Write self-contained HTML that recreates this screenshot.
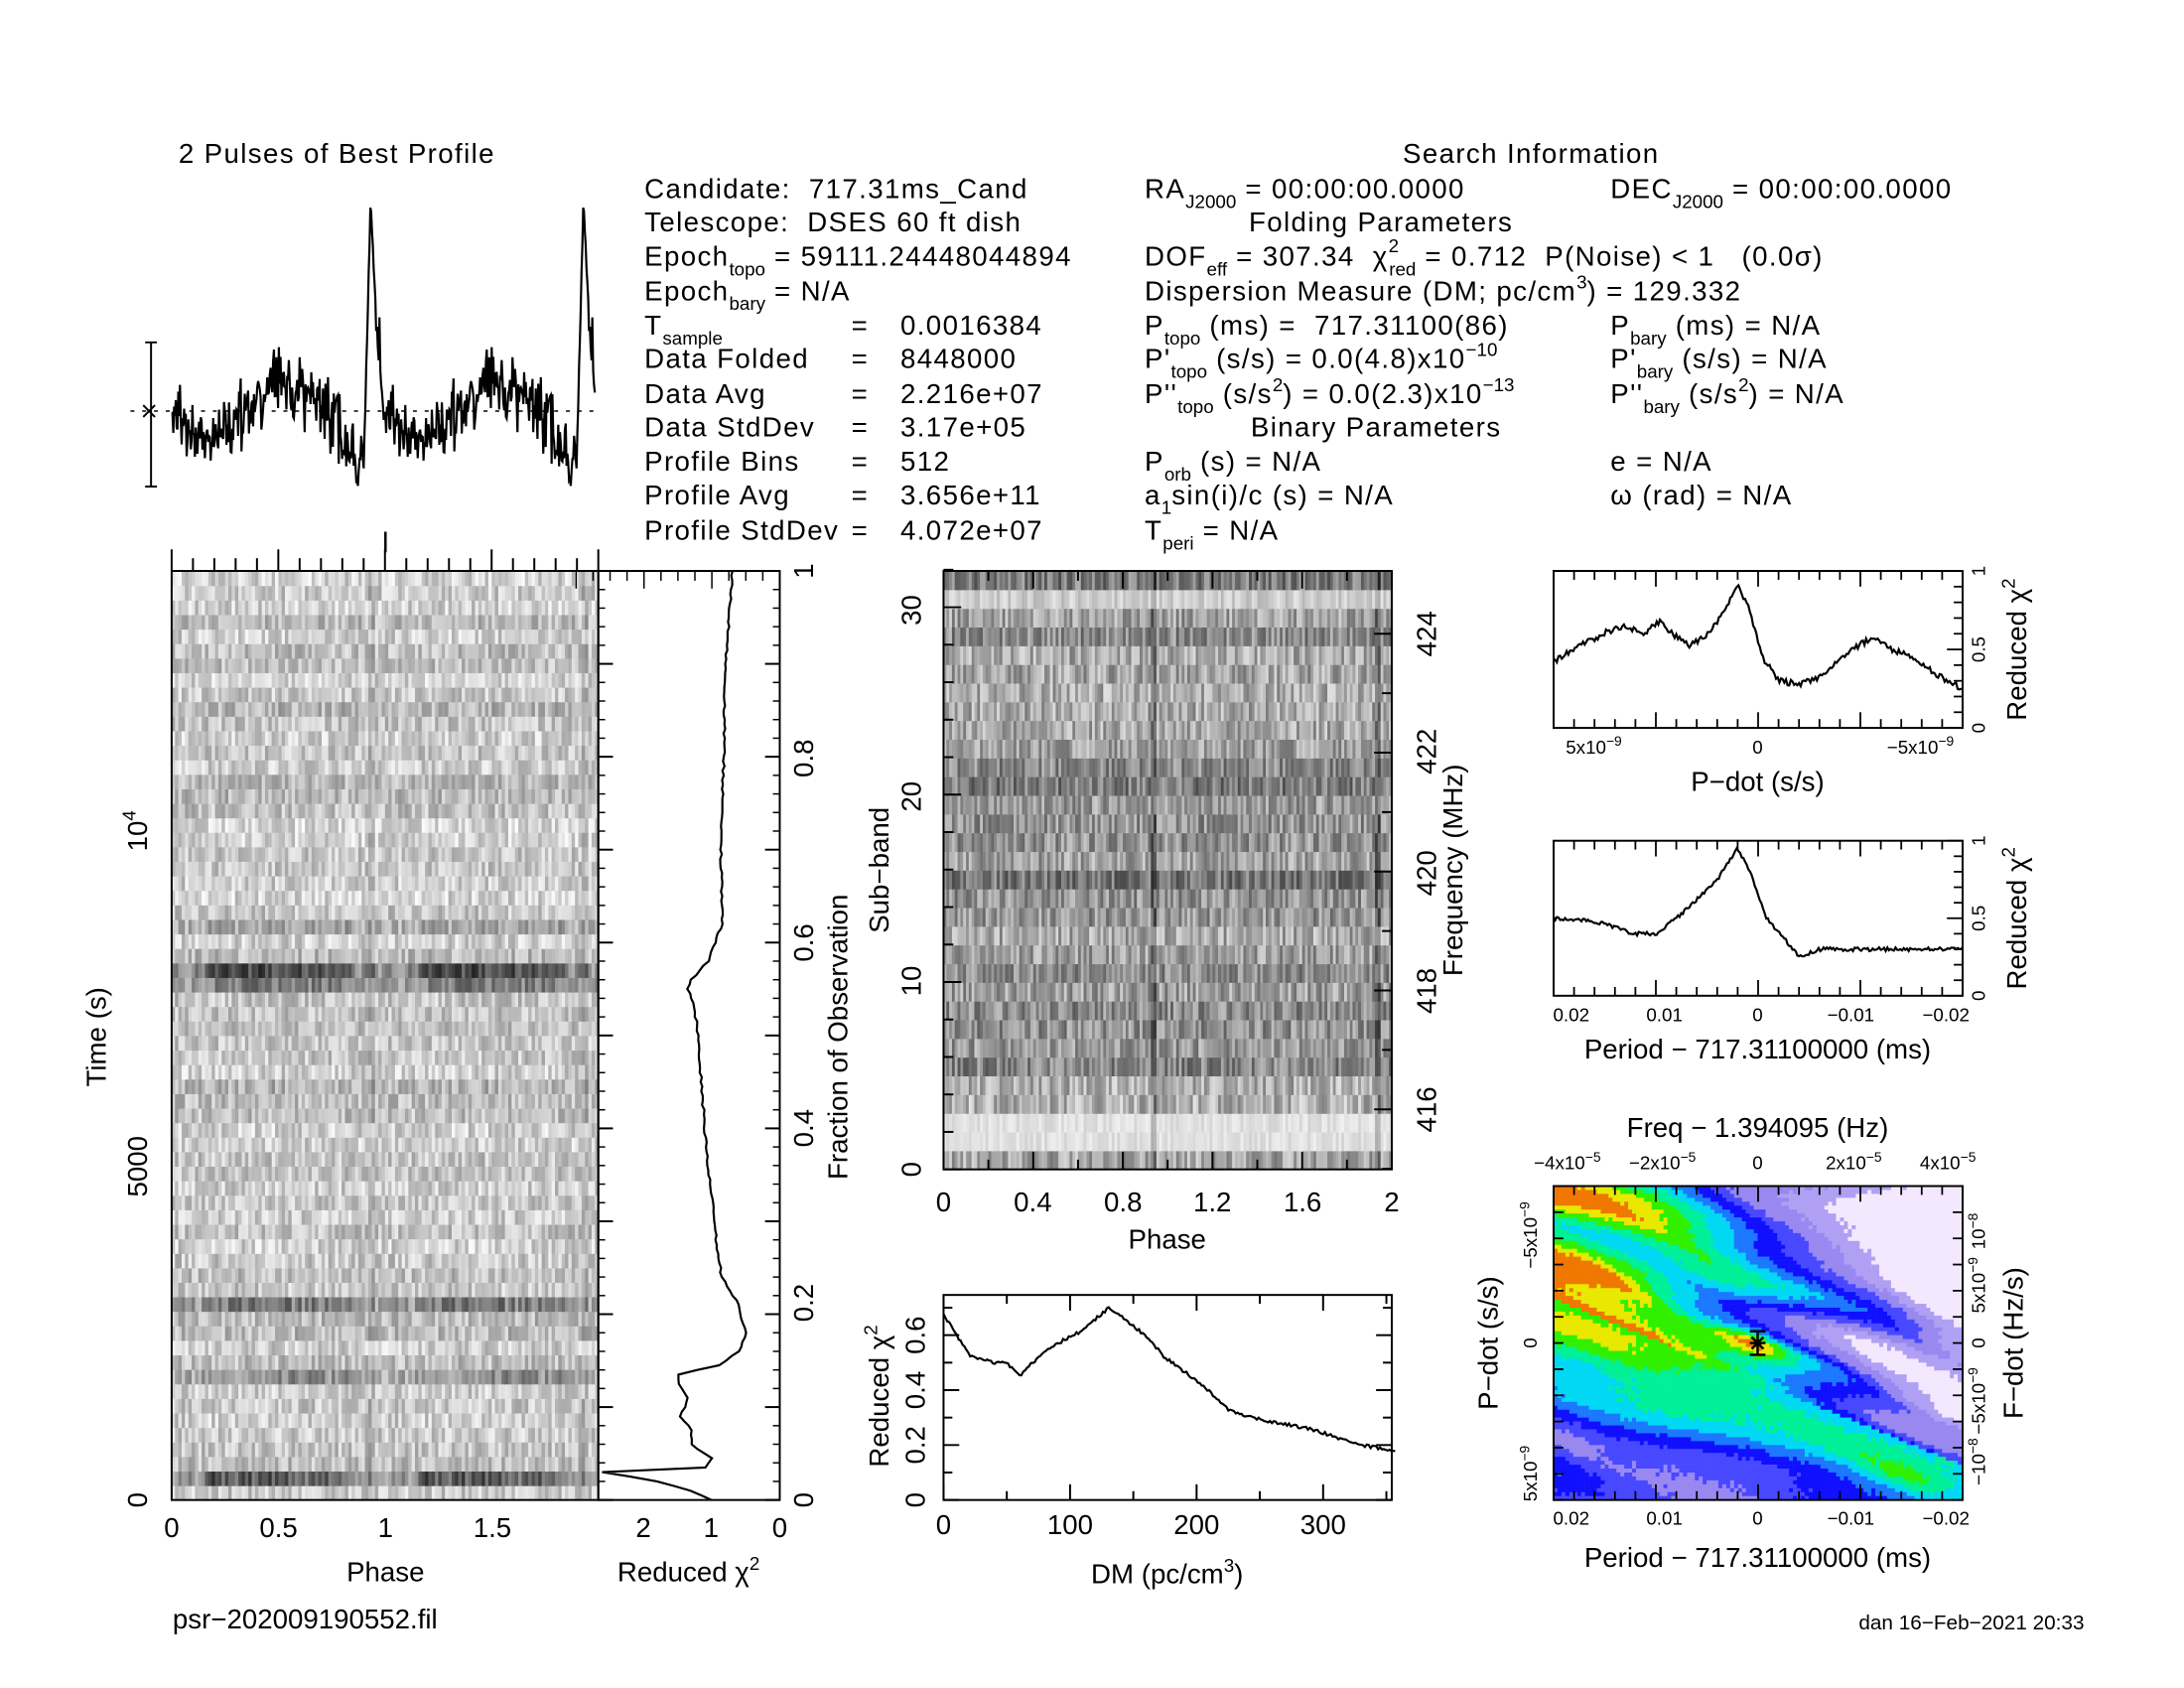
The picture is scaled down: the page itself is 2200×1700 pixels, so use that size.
<!DOCTYPE html>
<html><head><meta charset="utf-8"><style>
html,body{margin:0;padding:0;background:#fff;}
svg{display:block;}
text{font-family:"Liberation Sans",sans-serif;font-size:28px;fill:#000;white-space:pre;}
.t text{letter-spacing:1.4px;}
.s{font-size:19px;letter-spacing:0;}
</style></head><body>
<svg id="c" width="2200" height="1700" viewBox="0 0 2200 1700" xmlns="http://www.w3.org/2000/svg">
<defs>
<clipPath id="cm"><rect x="1584" y="1209" width="417" height="320"/></clipPath>
</defs>
<g transform="scale(0.988)">
<g id="gen"></g>
<g class="t">
<text x="182" y="166">2 Pulses of Best Profile</text>
<text x="1561" y="166" text-anchor="middle">Search Information</text>
<text x="657" y="202">Candidate:  717.31ms_Cand</text>
<text x="657" y="236">Telescope:  DSES 60 ft dish</text>
<text x="657" y="271">Epoch<tspan class="s" dy="10">topo</tspan><tspan dy="-10"> = 59111.24448044894</tspan></text>
<text x="657" y="306">Epoch<tspan class="s" dy="10">bary</tspan><tspan dy="-10"> = N/A</tspan></text>
<text x="657" y="341">T<tspan class="s" dy="10">sample</tspan></text>
<text x="657" y="375">Data Folded</text>
<text x="657" y="411">Data Avg</text>
<text x="657" y="445">Data StdDev</text>
<text x="657" y="480">Profile Bins</text>
<text x="657" y="514">Profile Avg</text>
<text x="657" y="550">Profile StdDev</text>
<text x="868" y="341">=</text><text x="868" y="375">=</text><text x="868" y="411">=</text><text x="868" y="445">=</text><text x="868" y="480">=</text><text x="868" y="514">=</text><text x="868" y="550">=</text>
<text x="918" y="341">0.0016384</text><text x="918" y="375">8448000</text><text x="918" y="411">2.216e+07</text><text x="918" y="445">3.17e+05</text><text x="918" y="480">512</text><text x="918" y="514">3.656e+11</text><text x="918" y="550">4.072e+07</text>
<text x="1167" y="202">RA<tspan class="s" dy="10">J2000</tspan><tspan dy="-10"> = 00:00:00.0000</tspan></text>
<text x="1642" y="202">DEC<tspan class="s" dy="10">J2000</tspan><tspan dy="-10"> = 00:00:00.0000</tspan></text>
<text x="1408" y="236" text-anchor="middle">Folding Parameters</text>
<text x="1167" y="271">DOF<tspan class="s" dy="10">eff</tspan><tspan dy="-10"> = 307.34  χ</tspan><tspan class="s" dy="-14">2</tspan><tspan class="s" dy="24" dx="-10">red</tspan><tspan dy="-10"> = 0.712  P(Noise) &lt; 1   (0.0σ)</tspan></text>
<text x="1167" y="306">Dispersion Measure (DM; pc/cm<tspan class="s" dy="-12">3</tspan><tspan dy="12">) = 129.332</tspan></text>
<text x="1167" y="341">P<tspan class="s" dy="10">topo</tspan><tspan dy="-10"> (ms) =  717.31100(86)</tspan></text>
<text x="1167" y="375">P'<tspan class="s" dy="10">topo</tspan><tspan dy="-10"> (s/s) = 0.0(4.8)x10</tspan><tspan class="s" dy="-12">−10</tspan></text>
<text x="1167" y="411">P''<tspan class="s" dy="10">topo</tspan><tspan dy="-10"> (s/s</tspan><tspan class="s" dy="-12">2</tspan><tspan dy="12">) = 0.0(2.3)x10</tspan><tspan class="s" dy="-12">−13</tspan></text>
<text x="1403" y="445" text-anchor="middle">Binary Parameters</text>
<text x="1167" y="480">P<tspan class="s" dy="10">orb</tspan><tspan dy="-10"> (s) = N/A</tspan></text>
<text x="1167" y="514">a<tspan class="s" dy="10">1</tspan><tspan dy="-10">sin(i)/c (s) = N/A</tspan></text>
<text x="1167" y="550">T<tspan class="s" dy="10">peri</tspan><tspan dy="-10"> = N/A</tspan></text>
<text x="1642" y="341">P<tspan class="s" dy="10">bary</tspan><tspan dy="-10"> (ms) = N/A</tspan></text>
<text x="1642" y="375">P'<tspan class="s" dy="10">bary</tspan><tspan dy="-10"> (s/s) = N/A</tspan></text>
<text x="1642" y="411">P''<tspan class="s" dy="10">bary</tspan><tspan dy="-10"> (s/s</tspan><tspan class="s" dy="-12">2</tspan><tspan dy="12">) = N/A</tspan></text>
<text x="1642" y="480">e = N/A</text>
<text x="1642" y="514">ω (rad) = N/A</text>
</g>
<g>
<text x="175" y="1567" text-anchor="middle">0</text><text x="284" y="1567" text-anchor="middle">0.5</text><text x="393" y="1567" text-anchor="middle">1</text><text x="502" y="1567" text-anchor="middle">1.5</text>
<text x="393" y="1612" text-anchor="middle">Phase</text>
<text x="656" y="1567" text-anchor="middle">2</text><text x="725" y="1567" text-anchor="middle">1</text><text x="795" y="1567" text-anchor="middle">0</text>
<text x="702" y="1612" text-anchor="middle">Reduced χ<tspan class="s" dy="-12">2</tspan></text>
<text x="176" y="1660">psr−202009190552.fil</text>
<text x="2125" y="1661" text-anchor="end" style="font-size:21px">dan 16−Feb−2021 20:33</text>
<g transform="translate(150,1529) rotate(-90)"><text text-anchor="middle">0</text></g>
<g transform="translate(150,1189) rotate(-90)"><text text-anchor="middle">5000</text></g>
<g transform="translate(150,847) rotate(-90)"><text text-anchor="middle">10<tspan class="s" dy="-12">4</tspan></text></g>
<g transform="translate(108,1057) rotate(-90)"><text text-anchor="middle">Time (s)</text></g>
<g transform="translate(829,1529) rotate(-90)"><text text-anchor="middle">0</text></g>
<g transform="translate(829,1328) rotate(-90)"><text text-anchor="middle">0.2</text></g>
<g transform="translate(829,1150) rotate(-90)"><text text-anchor="middle">0.4</text></g>
<g transform="translate(829,961) rotate(-90)"><text text-anchor="middle">0.6</text></g>
<g transform="translate(829,773) rotate(-90)"><text text-anchor="middle">0.8</text></g>
<g transform="translate(829,582) rotate(-90)"><text text-anchor="middle">1</text></g>
<g transform="translate(864,1057) rotate(-90)"><text text-anchor="middle">Fraction of Observation</text></g>
<g transform="translate(939,1192) rotate(-90)"><text text-anchor="middle">0</text></g>
<g transform="translate(939,1000) rotate(-90)"><text text-anchor="middle">10</text></g>
<g transform="translate(939,812) rotate(-90)"><text text-anchor="middle">20</text></g>
<g transform="translate(939,622) rotate(-90)"><text text-anchor="middle">30</text></g>
<g transform="translate(906,887) rotate(-90)"><text text-anchor="middle">Sub−band</text></g>
<g transform="translate(1464,1131) rotate(-90)"><text text-anchor="middle">416</text></g>
<g transform="translate(1464,1010) rotate(-90)"><text text-anchor="middle">418</text></g>
<g transform="translate(1464,890) rotate(-90)"><text text-anchor="middle">420</text></g>
<g transform="translate(1464,766) rotate(-90)"><text text-anchor="middle">422</text></g>
<g transform="translate(1464,646) rotate(-90)"><text text-anchor="middle">424</text></g>
<g transform="translate(1491,887) rotate(-90)"><text text-anchor="middle">Frequency (MHz)</text></g>
<text x="962" y="1235" text-anchor="middle">0</text><text x="1053" y="1235" text-anchor="middle">0.4</text><text x="1145" y="1235" text-anchor="middle">0.8</text><text x="1236" y="1235" text-anchor="middle">1.2</text><text x="1328" y="1235" text-anchor="middle">1.6</text><text x="1419" y="1235" text-anchor="middle">2</text>
<text x="1190" y="1273" text-anchor="middle">Phase</text>
<g transform="translate(943,1529) rotate(-90)"><text text-anchor="middle">0</text></g>
<g transform="translate(943,1473) rotate(-90)"><text text-anchor="middle">0.2</text></g>
<g transform="translate(943,1417) rotate(-90)"><text text-anchor="middle">0.4</text></g>
<g transform="translate(943,1361) rotate(-90)"><text text-anchor="middle">0.6</text></g>
<g transform="translate(906,1423) rotate(-90)"><text text-anchor="middle">Reduced χ<tspan class="s" dy="-12">2</tspan></text></g>
<text x="962" y="1564" text-anchor="middle">0</text><text x="1091" y="1564" text-anchor="middle">100</text><text x="1220" y="1564" text-anchor="middle">200</text><text x="1349" y="1564" text-anchor="middle">300</text>
<text x="1190" y="1614" text-anchor="middle">DM (pc/cm<tspan class="s" dy="-12">3</tspan><tspan dy="12">)</tspan></text>
<text x="1625" y="768" text-anchor="middle" style="font-size:19px">5x10<tspan style="font-size:14px" dy="-8">−9</tspan></text>
<text x="1792" y="768" text-anchor="middle" style="font-size:19px">0</text>
<text x="1958" y="768" text-anchor="middle" style="font-size:19px">−5x10<tspan style="font-size:14px" dy="-8">−9</tspan></text>
<text x="1792" y="806" text-anchor="middle">P−dot (s/s)</text>
<g transform="translate(2024,742) rotate(-90)"><text text-anchor="middle" style="font-size:19px">0</text></g>
<g transform="translate(2024,662) rotate(-90)"><text text-anchor="middle" style="font-size:19px">0.5</text></g>
<g transform="translate(2024,582) rotate(-90)"><text text-anchor="middle" style="font-size:19px">1</text></g>
<g transform="translate(2066,662) rotate(-90)"><text text-anchor="middle">Reduced χ<tspan class="s" dy="-12">2</tspan></text></g>
<text x="1602" y="1041" text-anchor="middle" style="font-size:19px">0.02</text>
<text x="1697" y="1041" text-anchor="middle" style="font-size:19px">0.01</text>
<text x="1792" y="1041" text-anchor="middle" style="font-size:19px">0</text>
<text x="1887" y="1041" text-anchor="middle" style="font-size:19px">−0.01</text>
<text x="1984" y="1041" text-anchor="middle" style="font-size:19px">−0.02</text>
<text x="1792" y="1079" text-anchor="middle">Period − 717.31100000 (ms)</text>
<g transform="translate(2024,1015) rotate(-90)"><text text-anchor="middle" style="font-size:19px">0</text></g>
<g transform="translate(2024,936) rotate(-90)"><text text-anchor="middle" style="font-size:19px">0.5</text></g>
<g transform="translate(2024,857) rotate(-90)"><text text-anchor="middle" style="font-size:19px">1</text></g>
<g transform="translate(2066,936) rotate(-90)"><text text-anchor="middle">Reduced χ<tspan class="s" dy="-12">2</tspan></text></g>
<text x="1792" y="1159" text-anchor="middle">Freq − 1.394095 (Hz)</text>
<text x="1598" y="1192" text-anchor="middle" style="font-size:19px">−4x10<tspan style="font-size:14px" dy="-8">−5</tspan></text>
<text x="1695" y="1192" text-anchor="middle" style="font-size:19px">−2x10<tspan style="font-size:14px" dy="-8">−5</tspan></text>
<text x="1792" y="1192" text-anchor="middle" style="font-size:19px">0</text>
<text x="1890" y="1192" text-anchor="middle" style="font-size:19px">2x10<tspan style="font-size:14px" dy="-8">−5</tspan></text>
<text x="1986" y="1192" text-anchor="middle" style="font-size:19px">4x10<tspan style="font-size:14px" dy="-8">−5</tspan></text>
<text x="1602" y="1554" text-anchor="middle" style="font-size:19px">0.02</text>
<text x="1697" y="1554" text-anchor="middle" style="font-size:19px">0.01</text>
<text x="1792" y="1554" text-anchor="middle" style="font-size:19px">0</text>
<text x="1887" y="1554" text-anchor="middle" style="font-size:19px">−0.01</text>
<text x="1984" y="1554" text-anchor="middle" style="font-size:19px">−0.02</text>
<text x="1792" y="1597" text-anchor="middle">Period − 717.31100000 (ms)</text>
<g transform="translate(1567,1259) rotate(-90)"><text text-anchor="middle" style="font-size:19px">−5x10<tspan style="font-size:14px" dy="-8">−9</tspan></text></g>
<g transform="translate(1567,1369) rotate(-90)"><text text-anchor="middle" style="font-size:19px">0</text></g>
<g transform="translate(1567,1502) rotate(-90)"><text text-anchor="middle" style="font-size:19px">5x10<tspan style="font-size:14px" dy="-8">−9</tspan></text></g>
<g transform="translate(1527,1369) rotate(-90)"><text text-anchor="middle">P−dot (s/s)</text></g>
<g transform="translate(2024,1255) rotate(-90)"><text text-anchor="middle" style="font-size:19px">10<tspan style="font-size:14px" dy="-8">−8</tspan></text></g>
<g transform="translate(2024,1310) rotate(-90)"><text text-anchor="middle" style="font-size:19px">5x10<tspan style="font-size:14px" dy="-8">−9</tspan></text></g>
<g transform="translate(2024,1369) rotate(-90)"><text text-anchor="middle" style="font-size:19px">0</text></g>
<g transform="translate(2024,1428) rotate(-90)"><text text-anchor="middle" style="font-size:19px">−5x10<tspan style="font-size:14px" dy="-8">−9</tspan></text></g>
<g transform="translate(2024,1490) rotate(-90)"><text text-anchor="middle" style="font-size:19px">−10<tspan style="font-size:14px" dy="-8">−8</tspan></text></g>
<g transform="translate(2062,1369) rotate(-90)"><text text-anchor="middle">F−dot (Hz/s)</text></g>
</g>
</g>
</svg>
<script>
(function(){
var s=123456789;function r(){s^=s<<13;s^=s>>>17;s^=s<<5;return ((s>>>0)%100000)/100000;}
var o=[];
function rect(x,y,w,h,f){o.push('<rect x="'+x.toFixed(1)+'" y="'+y.toFixed(1)+'" width="'+w.toFixed(2)+'" height="'+h.toFixed(2)+'" fill="'+f+'"/>');}
function g(v){v=Math.max(0,Math.min(255,Math.round(v)));return 'rgb('+v+','+v+','+v+')';}
function path(pts,extra){o.push('<polyline fill="none" stroke="#000" stroke-width="2.2" '+(extra||'')+' points="'+pts.map(function(p){return p[0].toFixed(1)+','+p[1].toFixed(1)}).join(' ')+'"/>');}
function interp(arr,x){if(x<=arr[0][0])return arr[0][1];for(var i=0;i<arr.length-1;i++){if(x>=arr[i][0]&&x<=arr[i+1][0]){var t=(x-arr[i][0])/(arr[i+1][0]-arr[i][0]);return arr[i][1]+t*(arr[i+1][1]-arr[i][1]);}}return arr[arr.length-1][1];}
var prof=[[0,0],[0.15,-0.4],[0.5,0.35],[0.75,-0.05],[0.85,-0.5],[0.9,-0.75],[0.915,0.5],[0.935,2.4],[0.96,1.0],[1.0,0.1]];
var pp=[];var N=256;var noise=[];for(var i=0;i<N;i++)noise.push((r()-0.5)*0.6+(r()-0.5)*0.35);
for(var k=0;k<2*N-2;k++){var ph=k/N;var j=k%N;var f=j/N;var v=interp(prof,f)+noise[j];if(f>0.91&&f<0.97)v=interp(prof,f)+noise[j]*0.3;pp.push([175+ph*217,419-v*92]);}
path(pp,'stroke-width="2"');
o.push('<line x1="133" y1="419" x2="610" y2="419" stroke="#000" stroke-width="1.5" stroke-dasharray="4,8"/>');
o.push('<path d="M148,349H160M154,349V496M148,496H160M146,413L158,425M146,425L158,413" stroke="#000" stroke-width="2" fill="none"/>');
o.push('<line x1="393" y1="542" x2="393" y2="563" stroke="#000" stroke-width="2.5"/>');
var X0=175,X1=610,Y0=582,Y1=1529;var R=64,C=64;var rh=(Y1-Y0)/R,cw=(X1-X0)/(2*C);
var dark={};[[0.57,1],[0.555,0.5],[0.21,0.5],[0.14,0.4],[0.03,1],[0.85,0.2],[0.44,0.15],[0.62,0.2]].forEach(function(d){dark[Math.floor(d[0]*R)]=d[1];});
for(var i=0;i<R;i++){var base=200+(r()-0.5)*30;var dk=dark[i]||0;var row=[];for(var j=0;j<C;j++){var f=j/C;var v=base+(r()-0.5)*80;if(dk){var w=(f>0.15&&f<0.85)?1:0.5;v-=dk*w*140*(0.7+r()*0.3);}if(Math.abs(f-0.93)<0.02)v-=20;row.push(v);}
for(var p=0;p<2;p++)for(var j=0;j<C;j++)rect(X0+(p*C+j)*cw,Y1-(i+1)*rh,cw+0.6,rh+0.6,g(row[j]));}
o.push('<rect x="175" y="582" width="435" height="947" fill="none" stroke="#000" stroke-width="2"/>');
for(var k=0;k<=20;k++){var x=175+k*21.75;var L=(k%5==0)?22:13;o.push('<line x1="'+x+'" y1="582" x2="'+x+'" y2="'+(582-L)+'" stroke="#000" stroke-width="2"/>');}
o.push('<rect x="610" y="582" width="185" height="947" fill="none" stroke="#000" stroke-width="2"/>');
for(var k=0;k<=10;k++){var y=1529-k*94.7;o.push('<line x1="795" y1="'+y+'" x2="780" y2="'+y+'" stroke="#000" stroke-width="2"/>');o.push('<line x1="610" y1="'+y+'" x2="625" y2="'+y+'" stroke="#000" stroke-width="2"/>');}
for(var k=0;k<=50;k++){var y=1529-k*18.94;o.push('<line x1="795" y1="'+y+'" x2="788" y2="'+y+'" stroke="#000" stroke-width="1.5"/>');o.push('<line x1="610" y1="'+y+'" x2="617" y2="'+y+'" stroke="#000" stroke-width="1.5"/>');}
for(var k=0;k<=12;k++){var x=795-k*17.3;o.push('<line x1="'+x+'" y1="582" x2="'+x+'" y2="'+(k%4==0?600:592)+'" stroke="#000" stroke-width="1.5"/>');}
var chi=[[1,0.7],[0.97,0.72],[0.9,0.8],[0.8,0.82],[0.7,0.86],[0.62,0.85],[0.6,0.95],[0.58,1.05],[0.56,1.3],[0.55,1.35],[0.53,1.25],[0.5,1.2],[0.45,1.15],[0.4,1.1],[0.36,1.05],[0.33,1.0],[0.3,0.95],[0.27,0.92],[0.24,0.85],[0.21,0.6],[0.18,0.5],[0.16,0.6],[0.145,0.9],[0.135,1.5],[0.12,1.45],[0.11,1.35],[0.09,1.45],[0.075,1.3],[0.06,1.3],[0.045,1.0],[0.035,1.1],[0.03,2.6],[0.02,1.8],[0.01,1.3],[0,1.0]];
var cp=[];var chr=chi.slice().reverse();for(var t=0;t<=1.0001;t+=0.005){var c=interp(chr,t)+(r()-0.5)*0.03;cp.push([795-c*69.5,1529-t*947]);}
path(cp);
var SX0=962,SX1=1419,SY0=582,SY1=1192,SR=32,SC=80;var sh=(SY1-SY0)/SR,sw=(SX1-SX0)/(2*SC);
for(var i=0;i<SR;i++){var base=150+(r()-0.5)*60;var amp=100;if(i==1||i==2){base=225;amp=30;}if(i==30){base=205;amp=50;}var row=[];for(var j=0;j<SC;j++){var f=j/SC;var v=base+(r()-0.5)*amp;if(Math.abs(f-0.93)<0.012)v-=50;row.push(v);}
for(var p=0;p<2;p++)for(var j=0;j<SC;j++)rect(SX0+(p*SC+j)*sw,SY1-(i+1)*sh,sw+0.5,sh+0.5,g(row[j]));}
o.push('<rect x="962" y="582" width="457" height="610" fill="none" stroke="#000" stroke-width="2"/>');
for(var k=0;k<=10;k++){var x=962+k*45.7;var L=k%2==0?18:10;o.push('<line x1="'+x+'" y1="1192" x2="'+x+'" y2="'+(1192-L)+'" stroke="#000" stroke-width="2"/><line x1="'+x+'" y1="582" x2="'+x+'" y2="'+(582+L)+'" stroke="#000" stroke-width="2"/>');}
for(var k=0;k<=32;k+=2){var y=1192-k*19.1;var L=k%10==0?18:10;o.push('<line x1="962" y1="'+y+'" x2="'+(962+L)+'" y2="'+y+'" stroke="#000" stroke-width="2"/>');}
for(var k=0;k<=10;k++){var y=1252-k*60.6;if(y<582||y>1192)continue;var L=k%2==0?18:10;o.push('<line x1="1419" y1="'+y+'" x2="'+(1419-L)+'" y2="'+y+'" stroke="#000" stroke-width="2"/>');}
o.push('<rect x="962" y="1320" width="457" height="209" fill="none" stroke="#000" stroke-width="2"/>');
var dm=[[0,0.68],[8,0.62],[20,0.53],[40,0.5],[50,0.5],[60,0.45],[70,0.5],[85,0.56],[110,0.62],[130,0.7],[140,0.67],[160,0.6],[175,0.52],[190,0.47],[205,0.42],[225,0.33],[245,0.3],[265,0.28],[290,0.26],[310,0.23],[330,0.2],[358,0.18]];
var dp=[];for(var d=0;d<=357;d+=1.5){dp.push([962+d*1.29,1529-(interp(dm,d)+(r()-0.5)*0.012)*279]);}
path(dp);
for(var k=0;k<=7;k++){var x=962+k*64.5;var L=k%2==0?16:9;o.push('<line x1="'+x+'" y1="1529" x2="'+x+'" y2="'+(1529-L)+'" stroke="#000" stroke-width="2"/><line x1="'+x+'" y1="1320" x2="'+x+'" y2="'+(1320+L)+'" stroke="#000" stroke-width="2"/>');}
for(var k=0;k<=7;k++){var y=1529-k*28;var L=k%2==0?16:9;o.push('<line x1="962" y1="'+y+'" x2="'+(962+L)+'" y2="'+y+'" stroke="#000" stroke-width="2"/><line x1="1419" y1="'+y+'" x2="'+(1419-L)+'" y2="'+y+'" stroke="#000" stroke-width="2"/>');}
function small(x0,y0,w,h,arr,nz){o.push('<rect x="'+x0+'" y="'+y0+'" width="'+w+'" height="'+h+'" fill="none" stroke="#000" stroke-width="2"/>');
for(var k=0;k<=20;k++){var x=x0+k*w/20;var L=k%5==0?16:9;o.push('<line x1="'+x+'" y1="'+(y0+h)+'" x2="'+x+'" y2="'+(y0+h-L)+'" stroke="#000" stroke-width="1.8"/><line x1="'+x+'" y1="'+y0+'" x2="'+x+'" y2="'+(y0+L)+'" stroke="#000" stroke-width="1.8"/>');}
for(var k=0;k<=10;k++){var y=y0+h-k*h/10;var L=k%5==0?16:9;o.push('<line x1="'+(x0+w)+'" y1="'+y+'" x2="'+(x0+w-L)+'" y2="'+y+'" stroke="#000" stroke-width="1.8"/>');}
var pts=[];for(var t=0;t<=1.0001;t+=0.004){pts.push([x0+t*w,y0+h-(interp(arr,t)+(r()-0.5)*nz)*h]);}path(pts);}
small(1584,582,417,160,[[0,0.42],[0.05,0.5],[0.12,0.6],[0.17,0.65],[0.22,0.6],[0.26,0.68],[0.3,0.58],[0.33,0.52],[0.38,0.6],[0.42,0.75],[0.45,0.92],[0.48,0.75],[0.51,0.45],[0.55,0.3],[0.6,0.28],[0.65,0.32],[0.72,0.48],[0.78,0.58],[0.83,0.5],[0.88,0.45],[0.93,0.35],[1,0.25]],0.04);
small(1584,857,417,158,[[0,0.5],[0.1,0.48],[0.2,0.4],[0.25,0.4],[0.3,0.5],[0.35,0.62],[0.4,0.75],[0.45,0.95],[0.48,0.8],[0.52,0.5],[0.57,0.35],[0.6,0.25],[0.65,0.3],[1,0.3]],0.025);
var cols=['#f4e8ff','#b0a0f4','#9888f0','#4848ff','#1010ff','#1c78ff','#00d8f4','#00f098','#30f000','#e8e800','#f07800'];
var base=[[-0.9,0.25],[-0.45,0.15],[-0.35,0.4],[-0.22,0.7],[-0.12,0.38],[-0.04,0.55],[0,0.76],[0.06,0.72],[0.2,0.8],[0.32,0.62],[0.45,0.42],[0.56,0.2],[0.66,0.38],[0.9,0.42]];
o.push('<g clip-path="url(#cm)">');
var cs=4;for(var yy=0;yy<320;yy+=cs){for(var xx=0;xx<417;xx+=cs){var p=xx/417-0.5,q=yy/320-0.5;var sv=q-0.53*p;var tv=p+0.53*q;
var v=interp(base,sv+0.02*Math.sin(tv*9))-0.5*Math.tanh(tv*1.8)*(sv<0.12?1:0.3);
if(sv<0.1)v-=0.07;
v+=0.06*Math.sin(tv*7+sv*25);
v+=0.35*Math.exp(-Math.pow(sv/0.04,2))*Math.exp(-Math.pow((tv+0.02)/0.12,2));
v+=0.2*Math.exp(-Math.pow((sv-0.24)/0.05,2))*Math.exp(-Math.pow((tv-0.6)/0.15,2));
v+=(r()-0.5)*0.04;
var idx=Math.max(0,Math.min(10,Math.floor(v*10)));rect(1584+xx,1209+yy,cs+0.3,cs+0.3,cols[idx]);}}
o.push('</g>');
o.push('<rect x="1584" y="1209" width="417" height="320" fill="none" stroke="#000" stroke-width="2"/>');
for(var k=0;k<=20;k++){var x=1584+k*417/20;var L=k%5==0?16:9;o.push('<line x1="'+x+'" y1="1529" x2="'+x+'" y2="'+(1529-L)+'" stroke="#000" stroke-width="1.8"/><line x1="'+x+'" y1="1209" x2="'+x+'" y2="'+(1209+L)+'" stroke="#000" stroke-width="1.8"/>');}
for(var k=0;k<=12;k++){var y=1209+k*320/12;o.push('<line x1="1584" y1="'+y+'" x2="1594" y2="'+y+'" stroke="#000" stroke-width="1.8"/><line x1="2001" y1="'+y+'" x2="1991" y2="'+y+'" stroke="#000" stroke-width="1.8"/>');}
o.push('<path d="M1784,1357H1800M1792,1357V1381M1784,1381H1800M1784,1369H1800M1786,1363L1798,1375M1786,1375L1798,1363" stroke="#000" stroke-width="2.5" fill="none"/>');
document.getElementById('gen').innerHTML=o.join('');
})();
</script>
</body></html>
